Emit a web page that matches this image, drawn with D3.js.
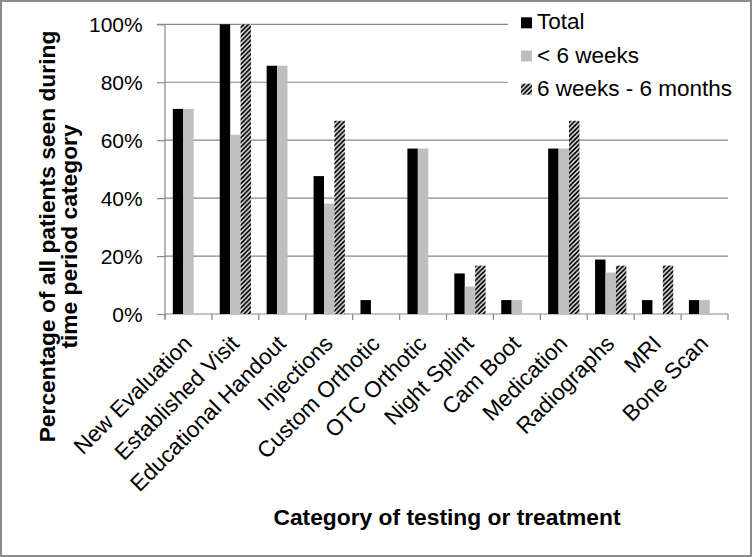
<!DOCTYPE html>
<html><head><meta charset="utf-8">
<script src="https://cdn.jsdelivr.net/npm/d3@7"></script>
<style>html,body{margin:0;padding:0;background:#fff;}svg{display:block;font-family:"Liberation Sans",Arial,sans-serif;}</style>
</head><body>
<script>
const categories = ["New Evaluation","Established Visit","Educational Handout","Injections","Custom Orthotic","OTC Orthotic","Night Splint","Cam Boot","Medication","Radiographs","MRI","Bone Scan"];
const seriesNames = ["Total","< 6 weeks","6 weeks - 6 months"];
const total    = [70.8, 100, 85.7, 47.6, 4.8, 57.1, 14.0, 4.8, 57.1, 18.8, 4.8, 4.8];
const under6w  = [70.8, 61.9, 85.7, 38.1, 0, 57.1, 9.5, 4.8, 57.1, 14.3, 0, 4.8];
const w6to6m   = [0, 100, 0, 66.7, 0, 0, 16.7, 0, 66.7, 16.7, 16.7, 0];
const yTicks = [0, 20, 40, 60, 80, 100];

(function(){
const W = 752, H = 557;
const svg = d3.select("body").append("svg").attr("width", W).attr("height", H);
const defs = svg.append("defs");
const P = 4.6, B = 2.7;
const pat = defs.append("pattern").attr("id","hatch").attr("patternUnits","userSpaceOnUse")
  .attr("width",P).attr("height",P);
pat.append("rect").attr("width",P).attr("height",P).attr("fill","#fff");
pat.append("path").attr("d",`M0,0L${B},0L0,${B}Z M0,${P}L${P},0L${P},${B}L${B},${P}Z`).attr("fill","#000");

svg.append("rect").attr("x",1).attr("y",1).attr("width",W-2).attr("height",H-2)
  .attr("fill","#fff").attr("stroke","#8c8c8c").attr("stroke-width",2);

const pLeft = 165, pRight = 728, pTop = 24.3, pBottom = 314;
const x0 = d3.scaleBand().domain(categories).range([pLeft, pRight]).padding(0);
const bw = x0.bandwidth();
const x1 = d3.scaleBand().domain(seriesNames).range([bw*1.5/9, bw - bw*1.5/9]).padding(0);
const y = d3.scaleLinear().domain([0,100]).range([pBottom, pTop]);

const gridColor = "#878787";
svg.append("g").selectAll("line").data(yTicks.filter(d=>d>0)).join("line")
  .attr("x1", pLeft).attr("x2", pRight).attr("y1", d=>y(d)).attr("y2", d=>y(d))
  .attr("stroke", gridColor).attr("stroke-width",1.2);

const yAxis = d3.axisLeft(y).tickValues(yTicks).tickFormat(d=>d+"%").tickSize(8).tickPadding(14.3);
const gy = svg.append("g").attr("transform",`translate(${pLeft},0)`).call(yAxis);
gy.select(".domain").attr("stroke",gridColor).attr("stroke-width",1.2).attr("d",`M-8,${pTop}H0V${pBottom+5}`);
gy.selectAll(".tick line").attr("stroke",gridColor).attr("stroke-width",1.2);
gy.selectAll(".tick text").attr("font-size",21).attr("fill","#000").attr("font-family","Liberation Sans, Arial, sans-serif").attr("dy","0.35em");

const gx = svg.append("g").attr("transform",`translate(0,${pBottom})`);
gx.append("line").attr("x1",pLeft).attr("x2",pRight).attr("y1",0).attr("y2",0).attr("stroke",gridColor).attr("stroke-width",1.2);
const bounds = categories.map(c=>x0(c)).concat([pRight]);
gx.selectAll("line.tk").data(bounds).join("line").attr("class","tk")
  .attr("x1",d=>d).attr("x2",d=>d).attr("y1",0).attr("y2",6).attr("stroke",gridColor).attr("stroke-width",1.2);
gx.selectAll("text").data(categories).join("text")
  .attr("transform", d=>`translate(${x0(d)+bw/2+5},${31}) rotate(-45)`)
  .attr("text-anchor","end").attr("font-size",22.5).attr("fill","#000").text(d=>d);

const data = [total, under6w, w6to6m];
const fills = ["#000000","#bfbfbf","url(#hatch)"];
const gb = svg.append("g");
seriesNames.forEach((s,si)=>{
  gb.append("g").selectAll("rect").data(categories.map((c,i)=>({c, v:data[si][i]})).filter(d=>d.v>0)).join("rect")
    .attr("x", d=>x0(d.c)+x1(s)).attr("width", x1.bandwidth())
    .attr("y", d=>y(d.v)).attr("height", d=>pBottom - y(d.v))
    .attr("fill", fills[si]);
});

const lg = svg.append("g");
lg.append("rect").attr("x",508).attr("y",6).attr("width",236).attr("height",100).attr("fill","#fff");
seriesNames.forEach((s,i)=>{
  const by = 29.3 + i*33.2;
  lg.append("rect").attr("x",521).attr("y",by-12).attr("width",11).attr("height",11).attr("fill",fills[i]);
  lg.append("text").attr("x",537).attr("y",by).attr("font-size",22.5).attr("fill","#000").text(s);
});

const yt = svg.append("g").attr("font-weight","bold").attr("font-size",22.8).attr("text-anchor","middle");
yt.append("text").attr("transform","translate(55,236.5) rotate(-90)").text("Percentage of all patients seen during");
yt.append("text").attr("transform","translate(77,236.5) rotate(-90)").text("time period category");
svg.append("text").attr("x",447).attr("y",525).attr("text-anchor","middle").attr("font-weight","bold").attr("font-size",22.8).text("Category of testing or treatment");
})();
</script>
</body></html>
